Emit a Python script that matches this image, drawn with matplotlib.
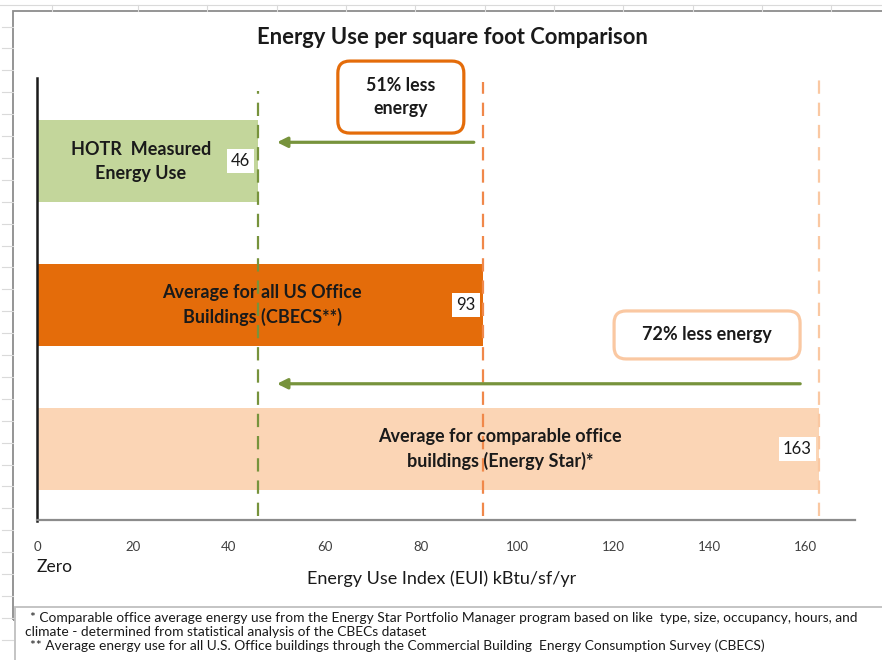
import matplotlib
matplotlib.use("Agg")
import matplotlib.pyplot as plt
from matplotlib.patches import FancyBboxPatch, Rectangle
from matplotlib.transforms import ScaledTranslation
from matplotlib.lines import Line2D

plt.rcParams['font.family'] = ['Lato', 'DejaVu Sans']

# ---- data ----
categories = ["Average for comparable office\nbuildings (Energy Star)*",
              "Average for all US Office\nBuildings (CBECS**)",
              "HOTR  Measured\nEnergy Use"]
values = [163, 93, 46]
bar_colors = ["#FBD5B5", "#E46C0A", "#C3D69B"]
line_colors = ["#FAC8A2", "#F0884A", "#77933C"]
label_x = [96.5, 46.9, 21.6]
x_ticks = [0, 20, 40, 60, 80, 100, 120, 140, 160]
savings = ["72% less energy", "51% less\nenergy"]

W, H = 882, 660
fig = plt.figure(figsize=(W / 100, H / 100), dpi=100)
fig.patch.set_facecolor("white")

# spreadsheet grid behind
for k in range(30):
    yy = 26.5 + 21.9 * k
    fig.add_artist(Line2D([2 / W, 13 / W], [1 - yy / H, 1 - yy / H],
                          color="#DADADA", lw=0.8, transform=fig.transFigure))
fig.add_artist(Line2D([0, 1], [1 - 5 / H, 1 - 5 / H], color="#DADADA", lw=0.8,
                      transform=fig.transFigure))
for xx in [52, 138, 207, 277, 346, 415, 485, 554, 623, 693, 762, 831]:
    fig.add_artist(Line2D([xx / W, xx / W], [1 - 5 / H, 1 - 11 / H], color="#DADADA",
                          lw=0.8, transform=fig.transFigure))

# chart frame
fig.add_artist(Rectangle((13 / W, 1 - 620 / H), 1.0, (620 - 11) / H, fill=False,
                         edgecolor="#8C8C8C", lw=1.3, transform=fig.transFigure))
# footnote box
fig.add_artist(Rectangle((15 / W, -0.01), 1.0, 1 - 607 / H + 0.01, facecolor="white",
                         edgecolor="#BFBFBF", lw=1.3, transform=fig.transFigure, zorder=2))

ax = fig.add_axes([37 / W, (H - 520) / H, 818 / W, 442 / H])
ax.set_facecolor("none")
ax.set_xlim(0, 818 / 4.8)
ax.set_ylim(-71 / 144, 371 / 144)

ypos = list(range(len(values)))
ax.barh(ypos, values, height=0.57, color=bar_colors, zorder=1)

# dashed reference lines
ymax_list = [0.995, 0.99, 0.97]
for v, c, ym in zip(values, line_colors, ymax_list):
    ax.axvline(v, ymin=0.01, ymax=ym, color=c, lw=1.6, ls=(0, (6, 4)), zorder=2)

# bar labels
for y, txt, lx in zip(ypos, categories, label_x):
    ax.text(lx, y, txt, ha="center", va="center", fontsize=13, fontweight="bold",
            color="#1A1A1A", linespacing=1.5, zorder=3)

# value labels
for y, v in zip(ypos, values):
    ax.text(v - 1.6, y, str(v), ha="right", va="center", fontsize=12, color="#1A1A1A",
            bbox=dict(boxstyle="square,pad=0.25", facecolor="white", edgecolor="none"),
            zorder=4)

# arrows
arrow_y = [0.453, 2.13]
arrow_from = [values[0] - 4, values[1] - 2]
arrow_to = values[2] + 4
for ay, af in zip(arrow_y, arrow_from):
    ax.annotate("", xy=(arrow_to, ay), xytext=(af, ay),
                arrowprops=dict(arrowstyle="-|>,head_length=0.6,head_width=0.3",
                                color="#77933C", lw=2.3, shrinkA=0, shrinkB=0), zorder=3)

# savings boxes (centered at data points, sized in inches)
box_specs = [(139.6, 0.792, 1.86, 0.48, "#FAC8A2", 13),
             (75.8, 2.444, 1.26, 0.72, "#E46C0A", 12.8)]
for (cx, cy, bw, bh, ec, fs), txt in zip(box_specs, savings):
    tr = fig.dpi_scale_trans + ScaledTranslation(cx, cy, ax.transData)
    p = FancyBboxPatch((-bw / 2, -bh / 2), bw, bh,
                       boxstyle="round,pad=0,rounding_size=0.12",
                       facecolor="white", edgecolor=ec, lw=2.3, transform=tr, zorder=5,
                       clip_on=False)
    ax.add_patch(p)
    ax.text(cx, cy, txt, ha="center", va="center", fontsize=fs, fontweight="bold",
            color="#1A1A1A", linespacing=1.45, zorder=6, clip_on=False)

# axes styling
for s in ["top", "right"]:
    ax.spines[s].set_visible(False)
ax.spines["left"].set_color("#1A1A1A")
ax.spines["left"].set_linewidth(1.8)
ax.spines["left"].set_bounds(-0.5, 371 / 144)
ax.spines["bottom"].set_color("#8C8C8C")
ax.spines["bottom"].set_linewidth(1.6)
ax.set_yticks([])
ax.set_xticks(x_ticks)
ax.set_xticklabels([str(t) for t in x_ticks])
ax.tick_params(axis="x", length=0, pad=15, labelsize=9.5, labelcolor="#404040")

ax.text(0, -0.82, "Zero", ha="left", va="center", fontsize=12.5, color="#1A1A1A")
ax.text(84.2, -0.90, "Energy Use Index (EUI) kBtu/sf/yr", ha="center", va="center",
        fontsize=13, color="#1A1A1A")

fig.text(452 / W, 1 - 37 / H, "Energy Use per square foot Comparison", ha="center",
         va="center", fontsize=15.8, fontweight="bold", color="#1A1A1A")

foot = ["* Comparable office average energy use from the Energy Star Portfolio Manager program based on like  type, size, occupancy, hours, and",
        "climate - determined from statistical analysis of the CBECs dataset",
        "** Average energy use for all U.S. Office buildings through the Commercial Building  Energy Consumption Survey (CBECS)"]
foot_x = [30, 25, 30]
foot_y = [618, 632, 646]
for t, fx, fy in zip(foot, foot_x, foot_y):
    fig.text(fx / W, 1 - fy / H, t, ha="left", va="center", fontsize=9.9,
             color="#1A1A1A", zorder=3)

fig.savefig("out.png", dpi=100)
